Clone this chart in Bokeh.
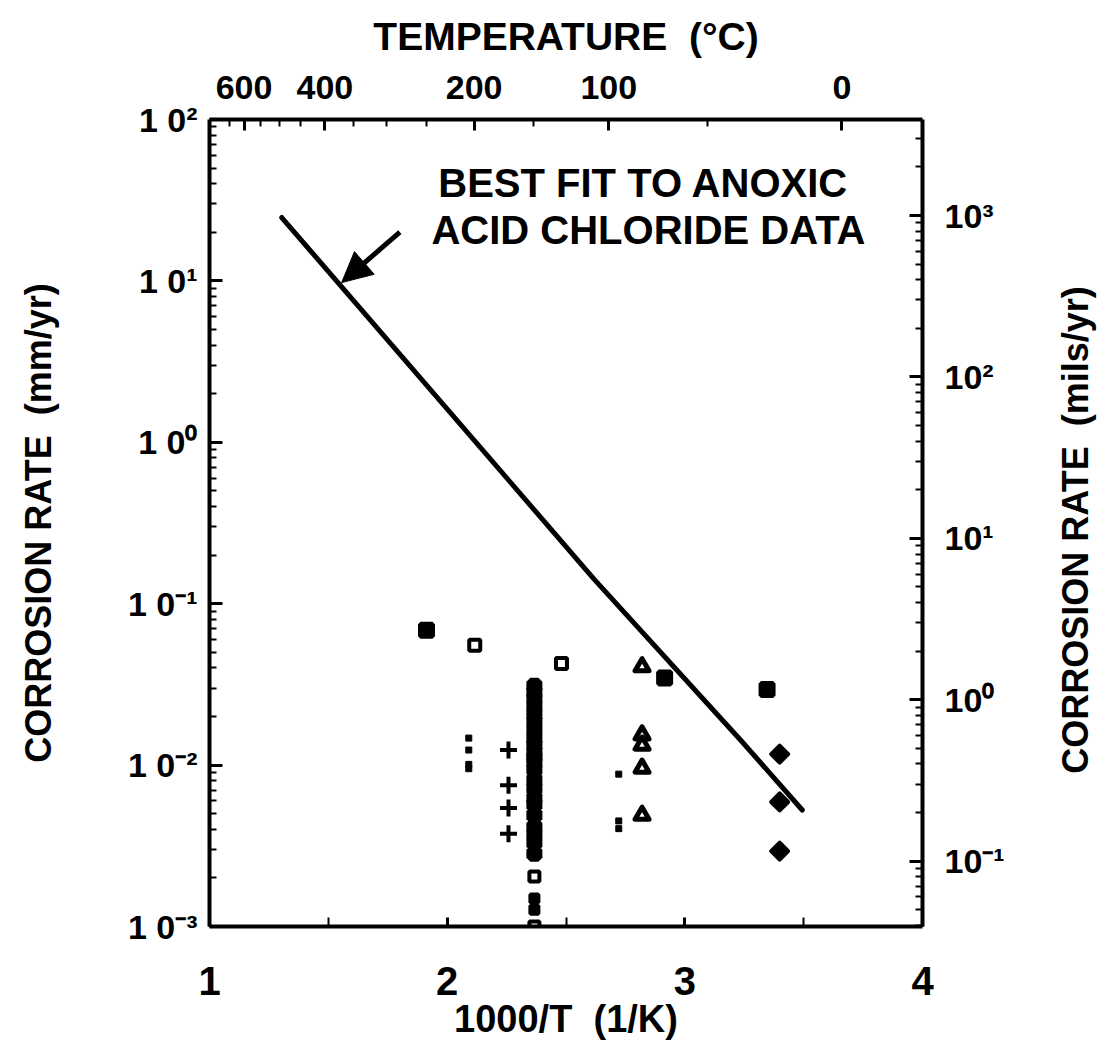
import math
from bokeh.plotting import figure
from bokeh.layouts import row
from bokeh.models import (LinearAxis, LogAxis, Range1d, LogScale, FixedTicker,
                          CustomJSTickFormatter, Label, Arrow, NormalHead)
from bokeh.embed import file_html
from bokeh.resources import INLINE

FONT = "Liberation Sans"
NB = "\u00A0"

# ---------------- data ----------------
# best fit line to anoxic acid chloride data: 1000/T (1/K) vs mm/yr
fit_x = [1.304, 2.617, 3.239, 3.494]
fit_y = [24.7, 0.1426, 0.01406, 0.00527]

# squares with cross
hatched_x = [1.913, 2.915, 3.346]
hatched_y = [0.0684, 0.0347, 0.0294]
# open squares
open_sq_x = [2.116, 2.481]
open_sq_y = [0.0553, 0.0426]
# open triangles
tri_x = [2.820, 2.820, 2.820, 2.820, 2.820]
tri_y = [0.0407, 0.0154, 0.0133, 0.00958, 0.00489]
# filled diamonds
diamond_x = [3.399, 3.399, 3.399]
diamond_y = [0.0117, 0.00591, 0.00293]
# plus signs
plus_x = [2.258, 2.258, 2.258, 2.258]
plus_y = [0.0124, 0.00749, 0.00543, 0.00375]
# small filled squares
dot_x = [2.091, 2.091, 2.091, 2.091, 2.722, 2.722, 2.722]
dot_y = [0.0147, 0.0124, 0.0101, 0.0095, 0.00879, 0.00451, 0.00404]
# dense column of squares at 150 C
col_x = [2.367, 2.367, 2.367, 2.367, 2.367, 2.367, 2.367, 2.367, 2.367, 2.367, 2.367,
         2.367, 2.367, 2.367, 2.367, 2.367, 2.367, 2.367, 2.367, 2.367, 2.367, 2.367]
col_y = [0.0310, 0.0282, 0.0257, 0.0230, 0.0206, 0.0184, 0.0163, 0.01454, 0.01334,
         0.01203, 0.01116, 0.01043, 0.00935, 0.00812, 0.00720, 0.00626, 0.00569,
         0.00489, 0.00413, 0.00371, 0.00330, 0.00282]
low_sq_x = [2.367, 2.367]
low_sq_y = [0.00204, 0.00100]
low_hatch_x = [2.367, 2.367]
low_hatch_y = [0.00149, 0.00127]

# axes
x_ticks = [1, 2, 3, 4]
x_minor = [1.5, 2.5, 3.5]
mm_decades = [1e-3, 1e-2, 1e-1, 1e0, 1e1, 1e2]
mils_decades = [1e-1, 1e0, 1e1, 1e2, 1e3]
MILS_PER_MM = 39.37
temp_major_C = [600, 400, 200, 100, 0]
temp_minor_C = [650, 550, 500, 450, 350, 300, 250, 150, 50]

# ---------------- main figure ----------------
p = figure(width=1036, height=1042, x_range=Range1d(1, 4), y_range=Range1d(1e-3, 1e2),
           y_axis_type="log", output_backend="svg", toolbar_location=None, title=None,
           min_border_left=209, min_border_right=114, min_border_top=119,
           min_border_bottom=113)
p.outline_line_color = None
p.xgrid.visible = False
p.ygrid.visible = False
p.background_fill_color = "white"
p.border_fill_color = "white"


def style_axis(ax, tick_in, minor_in, label_size):
    ax.axis_line_width = 4
    ax.axis_line_color = "black"
    ax.major_tick_in = tick_in
    ax.major_tick_out = 0
    ax.minor_tick_in = minor_in
    ax.minor_tick_out = 0
    ax.major_tick_line_width = 3
    ax.minor_tick_line_width = 2
    ax.major_tick_line_color = "black"
    ax.minor_tick_line_color = "black"
    ax.major_label_text_font = FONT
    ax.major_label_text_font_style = "bold"
    ax.major_label_text_font_size = label_size
    ax.major_label_text_color = "black"
    ax.axis_label_text_font = FONT
    ax.axis_label_text_font_style = "bold"
    ax.axis_label_text_color = "black"


def log_minor(decades):
    out = []
    for d in decades[:-1]:
        for m in range(2, 10):
            out.append(d * m)
    return out


SUP_JS = ('const m = {"-":"\\u207B","0":"\\u2070","1":"\\u00B9","2":"\\u00B2","3":"\\u00B3"};'
          'const e = Math.round(Math.log10(tick));'
          'const s = String(e).split("").map(c => m[c]).join("");')

# bottom axis
bx = p.below[0]
bx.ticker = FixedTicker(ticks=x_ticks, minor_ticks=x_minor)
style_axis(bx, 9, 9, "40px")
bx.major_label_standoff = 40
bx.axis_label = "1000/T" + NB + NB + "(1/K)"
bx.axis_label_text_font_size = "38px"
bx.axis_label_standoff = 0

# left axis (mm/yr)
ly = p.left[0]
ly.ticker = FixedTicker(ticks=mm_decades, minor_ticks=log_minor(mm_decades))
ly.formatter = CustomJSTickFormatter(code=SUP_JS + 'return "1 0" + s;')
style_axis(ly, 13, 7, "34px")
ly.major_label_standoff = 12
ly.axis_label = "CORROSION RATE" + NB + NB + "(mm/yr)"
ly.axis_label_text_font_size = "36px"
ly.axis_label_standoff = 66

# right axis (mils/yr)
p.extra_y_ranges = {"mils": Range1d(1e-3 * MILS_PER_MM, 1e2 * MILS_PER_MM)}
p.extra_y_scales = {"mils": LogScale()}
mils_all = [1e-2] + mils_decades
ry = LogAxis(y_range_name="mils",
             ticker=FixedTicker(ticks=mils_decades, minor_ticks=log_minor(mils_all) + [2e3, 3e3]),
             formatter=CustomJSTickFormatter(code=SUP_JS + 'return "10" + s;'))
style_axis(ry, 13, 7, "34px")
ry.major_label_standoff = 22
p.add_layout(ry, "right")

# top axis (temperature)
tx = LinearAxis(ticker=FixedTicker(ticks=[1000.0 / (t + 273.15) for t in temp_major_C],
                                   minor_ticks=[1000.0 / (t + 273.15) for t in temp_minor_C]),
                formatter=CustomJSTickFormatter(code="return String(Math.round(1000/tick - 273.15));"))
style_axis(tx, 11, 7, "34px")
tx.major_label_standoff = 21
tx.axis_label = "TEMPERATURE" + NB + NB + "(\u00B0C)"
tx.axis_label_text_font_size = "39px"
tx.axis_label_standoff = 15
p.add_layout(tx, "above")

# ---------------- glyphs ----------------
p.line(fit_x, fit_y, line_width=5, line_color="black", line_cap="round", line_join="round")

p.scatter(hatched_x, hatched_y, marker="square_x", size=12, line_width=5,
          line_color="black", fill_color="white")
p.scatter(open_sq_x, open_sq_y, marker="square", size=11, line_width=4,
          line_color="black", fill_color="white")
p.scatter(tri_x, tri_y, marker="triangle", size=14, line_width=5,
          line_color="black", fill_color="white", line_join="round")
p.scatter(diamond_x, diamond_y, marker="square", angle=math.pi / 4, size=12, line_width=4,
          line_color="black", fill_color="black", line_join="round")
p.scatter(plus_x, plus_y, marker="cross", size=17, line_width=4, line_color="black")
p.scatter(dot_x, dot_y, marker="square", size=6, line_width=1,
          line_color="black", fill_color="black")
p.scatter(col_x, col_y, marker="square", size=8, line_width=8,
          line_color="black", fill_color="white")
p.scatter(low_sq_x, low_sq_y, marker="square", size=10, line_width=4,
          line_color="black", fill_color="white")
p.scatter(low_hatch_x, low_hatch_y, marker="square_x", size=8, line_width=4,
          line_color="black", fill_color="white")

# ---------------- annotations ----------------
p.add_layout(Arrow(end=NormalHead(size=30, fill_color="black", line_color="black"),
                   x_start=1.801, y_start=20.07, x_end=1.556, y_end=9.76,
                   line_width=5, line_color="black"))
for tx_, ty_, txt in [(2.826, 40.3, "BEST FIT TO ANOXIC"), (2.847, 20.6, "ACID CHLORIDE DATA")]:
    p.add_layout(Label(x=tx_, y=ty_, text=txt, text_align="center", text_baseline="alphabetic",
                       text_font=FONT, text_font_style="bold", text_font_size="40px",
                       text_color="black"))

# right axis title strip (reads bottom to top, like the left one)
p2 = figure(width=70, height=1042, x_range=Range1d(0, 1), y_range=Range1d(0, 1),
            x_axis_type=None, y_axis_type=None, output_backend="svg",
            toolbar_location=None, title=None, min_border=0)
p2.outline_line_color = None
p2.background_fill_color = "white"
p2.border_fill_color = "white"
p2.add_layout(Label(x=39.0 / 70.0, y=1.0 - 530.0 / 1042.0,
                    text="CORROSION RATE" + NB + NB + "(mils/yr)",
                    angle=math.pi / 2, text_align="center", text_baseline="middle",
                    text_font=FONT, text_font_style="bold", text_font_size="36px",
                    text_color="black"))

layout = row(p, p2, spacing=0)
open("out.html", "w").write(file_html(layout, INLINE))
